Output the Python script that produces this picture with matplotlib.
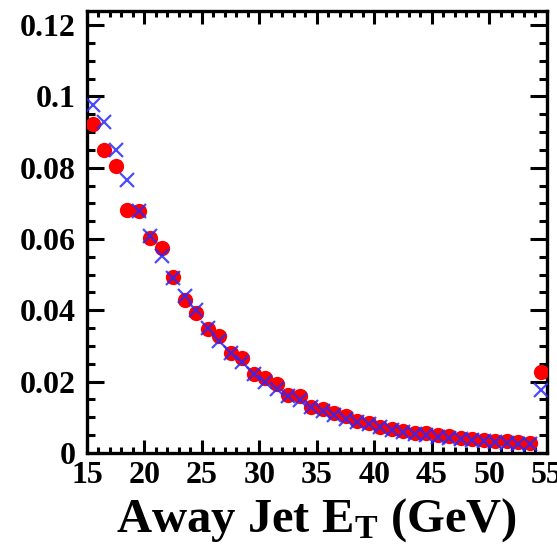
import numpy as np
import matplotlib
matplotlib.use("Agg")
import matplotlib.pyplot as plt
from matplotlib.ticker import MultipleLocator

bin_centers = [15.5 + i for i in range(40)]
red_values = [0.0924, 0.0851, 0.0806, 0.0682, 0.0680, 0.0603, 0.0575, 0.0494, 0.0428, 0.0393,
              0.0348, 0.0327, 0.0280, 0.0265, 0.0222, 0.0210, 0.0193, 0.0163, 0.0160, 0.0130,
              0.0124, 0.0112, 0.0104, 0.0090, 0.0084, 0.0074, 0.0068, 0.0062, 0.0056, 0.0056,
              0.0050, 0.0046, 0.0042, 0.0040, 0.0036, 0.0034, 0.0034, 0.0030, 0.0028, 0.0228]
blue_values = [0.0975, 0.0927, 0.0851, 0.0766, 0.0680, 0.0608, 0.0552, 0.0490, 0.0440, 0.0400,
               0.0350, 0.0313, 0.0280, 0.0255, 0.0222, 0.0200, 0.0180, 0.0160, 0.0148, 0.0130,
               0.0118, 0.0106, 0.0096, 0.0088, 0.0080, 0.0072, 0.0064, 0.0058, 0.0053, 0.0050,
               0.0045, 0.0042, 0.0038, 0.0035, 0.0032, 0.0030, 0.0028, 0.0026, 0.0024, 0.0177]
x_ticks = [15, 20, 25, 30, 35, 40, 45, 50, 55]
y_ticks = [0, 0.02, 0.04, 0.06, 0.08, 0.1, 0.12]
y_tick_labels = ["0", "0.02", "0.04", "0.06", "0.08", "0.1", "0.12"]

plt.rcParams['font.family'] = ['Liberation Serif', 'DejaVu Serif']
plt.rcParams['mathtext.fontset'] = 'custom'
plt.rcParams['mathtext.rm'] = 'Liberation Serif'
plt.rcParams['mathtext.bf'] = 'Liberation Serif:bold'
plt.rcParams['mathtext.it'] = 'Liberation Serif:italic'

fig = plt.figure(figsize=(5.57, 5.45), dpi=100)
ax = fig.add_axes([0.156, 0.169, 0.826, 0.811])

ax.plot(bin_centers, red_values, 'o', color='#ff0000', markersize=11, markeredgewidth=0, zorder=3)
ax.plot(bin_centers, blue_values, 'x', color='#2a2aff', markersize=10, markeredgewidth=1.6, alpha=0.85, zorder=4)

ax.set_xlim(15, 55)
ax.set_ylim(0, 0.124)
ax.set_xticks(x_ticks)
ax.set_xticklabels([str(t) for t in x_ticks])
ax.set_yticks(y_ticks)
ax.set_yticklabels(y_tick_labels)
ax.xaxis.set_minor_locator(MultipleLocator(1))
ax.yaxis.set_minor_locator(MultipleLocator(0.005))

for s in ax.spines.values():
    s.set_linewidth(2.4)

ax.tick_params(axis='both', which='both', direction='in', top=True, right=True, width=2.2)
ax.tick_params(axis='y', which='major', length=12, labelsize=23, pad=8)
ax.tick_params(axis='y', which='minor', length=6)
ax.tick_params(axis='x', which='major', length=9.5, labelsize=23, pad=6)
ax.tick_params(axis='x', which='minor', length=4.5)
for lab in ax.get_xticklabels() + ax.get_yticklabels():
    lab.set_fontweight('bold')

ax.set_xlabel(r'Away Jet E$_{\mathbf{T}}$ (GeV)', fontsize=35, fontweight='bold', labelpad=4)

fig.savefig('out.png', dpi=100)
